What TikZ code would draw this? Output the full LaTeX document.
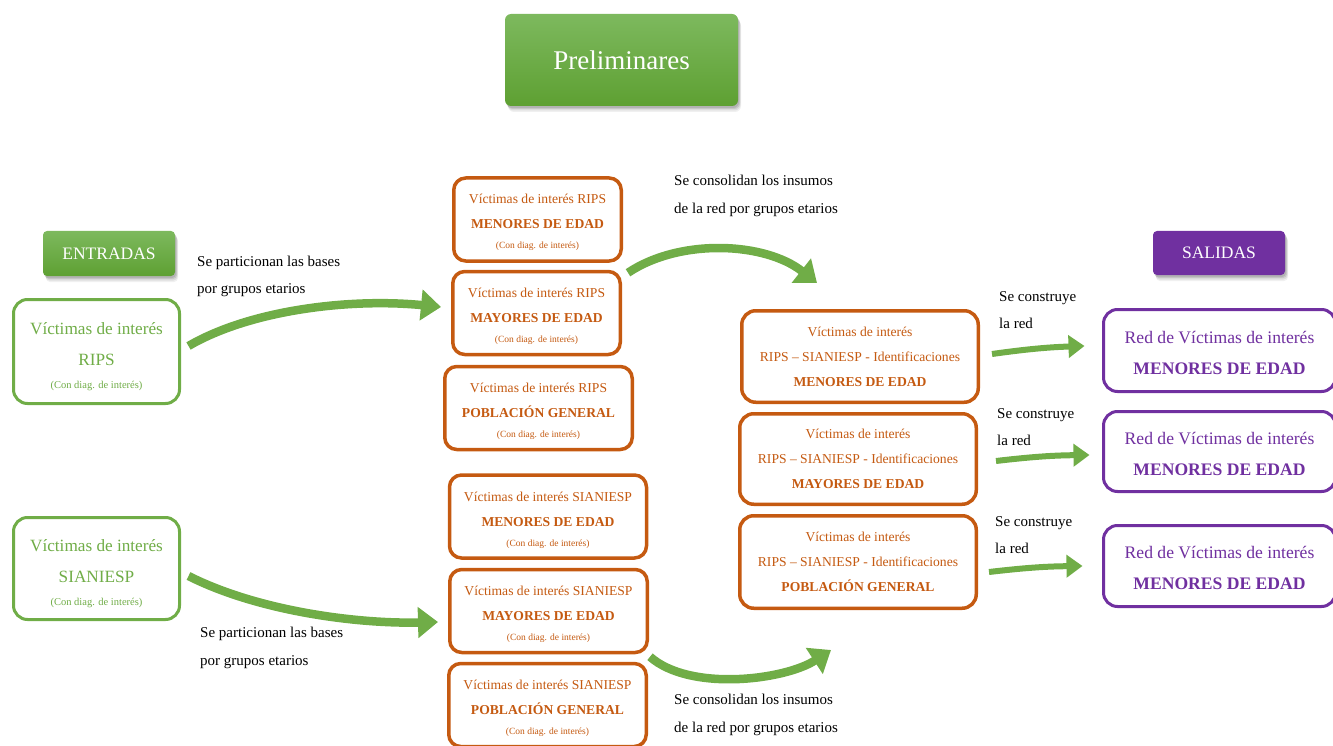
\documentclass[tikz,border=0pt]{standalone}
\usepackage{fontspec}
\setmainfont{Liberation Serif}
\usetikzlibrary{arrows.meta,calc,shadows}
\definecolor{grn}{HTML}{70AD47}
\definecolor{grnTop}{HTML}{7DB95E}
\definecolor{grnBot}{HTML}{5EA032}
\definecolor{org}{HTML}{C55A11}
\definecolor{prp}{HTML}{7030A0}

% invisible strut that sets the height of a first text line
\newcommand{\lift}[1]{\rule{0pt}{#1}}
\newcommand{\condiag}[1]{{\fontsize{#1}{12}\selectfont (Con diag. de interés)}}

\begin{document}
\begin{tikzpicture}[x=1pt,y=-1pt,
  every node/.style={align=center, inner sep=0pt},
  softshadow/.style={
    preaction={general shadow={shadow xshift=1pt, shadow yshift=-2pt, opacity=0.10, fill=black}},
    preaction={general shadow={shadow xshift=2pt, shadow yshift=-3pt, opacity=0.10, fill=black}},
    preaction={general shadow={shadow xshift=2.5pt, shadow yshift=-4.5pt, opacity=0.08, fill=black}},
    preaction={general shadow={shadow xshift=3pt, shadow yshift=-6pt, opacity=0.06, fill=black}}},
  titlebox/.style={softshadow, rounded corners=6pt, top color=grnTop, bottom color=grnBot, text=white},
  outbox/.style={softshadow, rounded corners=4pt, fill=prp, text=white},
  inbox/.style={draw=grn, line width=3pt, rounded corners=14pt, fill=white, text=grn,
    minimum width=166pt, font=\fontsize{17.2}{31}\selectfont},
  agebox/.style={draw=org, line width=3.5pt, rounded corners=12pt, fill=white, text=org,
    minimum height=83pt, font=\fontsize{13.6}{25}\selectfont},
  netbox/.style={draw=org, line width=3.5pt, rounded corners=14pt, fill=white, text=org,
    minimum width=236.5pt, font=\fontsize{13.6}{25}\selectfont},
  resbox/.style={draw=prp, line width=3pt, rounded corners=14pt, fill=white, text=prp,
    minimum width=232pt, font=\fontsize{17.6}{31}\selectfont},
  note/.style={align=left, anchor=west, text=black, font=\fontsize{15}{27.5}\selectfont},
  bigarrow/.style={draw=grn, line width=8.5pt, -{Triangle[length=20pt,width=30pt]}},
  smallarrow/.style={draw=grn, line width=6pt, -{Triangle[length=16pt,width=22pt]}},
]
\useasboundingbox (0,0) rectangle (1333,746);

% headers
\node[titlebox, minimum width=233pt, minimum height=92pt, font=\fontsize{27}{32}\selectfont]
  (prelim) at (621.5,60) {Preliminares};
\node[titlebox, rounded corners=4pt, minimum width=132pt, minimum height=45pt, font=\fontsize{17.5}{20}\selectfont]
  (entradas) at (109,253.5) {ENTRADAS};
\node[outbox, minimum width=132pt, minimum height=44pt, font=\fontsize{17.5}{20}\selectfont]
  (salidas) at (1219,253) {SALIDAS};

% input sources
\node[inbox, minimum height=104pt] (rips) at (96.5,351.5)
  {\lift{22pt}Víctimas de interés\\RIPS\\[-8pt]\condiag{10.5}};
\node[inbox, minimum height=102pt] (sian) at (96.5,568.5)
  {\lift{22pt}Víctimas de interés\\SIANIESP\\[-8pt]\condiag{10.5}};

% RIPS split by age group
\node[agebox, minimum width=167.5pt] (r1) at (537.5,219.5)
  {\lift{16pt}Víctimas de interés RIPS\\\textbf{MENORES DE EDAD}\\[-5pt]\condiag{9.5}};
\node[agebox, minimum width=167.5pt] (r2) at (536.5,313)
  {\lift{17pt}Víctimas de interés RIPS\\\textbf{MAYORES DE EDAD}\\[-5pt]\condiag{9.5}};
\node[agebox, minimum width=187.5pt] (r3) at (538.5,408)
  {\lift{16pt}Víctimas de interés RIPS\\\textbf{POBLACIÓN GENERAL}\\[-5pt]\condiag{9.5}};

% SIANIESP split by age group
\node[agebox, minimum width=197pt] (s1) at (548,516.5)
  {\lift{17pt}Víctimas de interés SIANIESP\\\textbf{MENORES DE EDAD}\\[-5pt]\condiag{9.5}};
\node[agebox, minimum width=197.5pt] (s2) at (548.5,611)
  {\lift{17pt}Víctimas de interés SIANIESP\\\textbf{MAYORES DE EDAD}\\[-5pt]\condiag{9.5}};
\node[agebox, minimum width=197.5pt] (s3) at (547.5,705)
  {\lift{16pt}Víctimas de interés SIANIESP\\\textbf{POBLACIÓN GENERAL}\\[-5pt]\condiag{9.5}};

% consolidated network inputs
\node[netbox, minimum height=91.5pt] (m1) at (860,356.5)
  {Víctimas de interés\\RIPS – SIANIESP - Identificaciones\\\textbf{MENORES DE EDAD}};
\node[netbox, minimum height=90.5pt] (m2) at (858,459)
  {Víctimas de interés\\RIPS – SIANIESP - Identificaciones\\\textbf{MAYORES DE EDAD}};
\node[netbox, minimum height=92.5pt] (m3) at (858,562)
  {Víctimas de interés\\RIPS – SIANIESP - Identificaciones\\\textbf{POBLACIÓN GENERAL}};

% outputs (running past the right margin)
\node[resbox, minimum height=82pt] (p1) at (1219.5,350.5)
  {\lift{16.5pt}Red de Víctimas de interés\\\textbf{MENORES DE EDAD}};
\node[resbox, minimum height=80pt] (p2) at (1219.5,451.5)
  {\lift{16.5pt}Red de Víctimas de interés\\\textbf{MENORES DE EDAD}};
\node[resbox, minimum height=81pt] (p3) at (1219.5,566)
  {\lift{16.5pt}Red de Víctimas de interés\\\textbf{MENORES DE EDAD}};

% step descriptions
\node[note] (n1) at (197,276.5) {Se particionan las bases\\por grupos etarios};
\node[note] (n2) at (200,648) {Se particionan las bases\\por grupos etarios};
\node[note] (n3) at (674,196) {Se consolidan los insumos\\de la red por grupos etarios};
\node[note] (n4) at (674,715) {Se consolidan los insumos\\de la red por grupos etarios};
\node[note] (n5) at (999,310) {Se construye\\la red};
\node[note] (n6) at (997,427) {Se construye\\la red};
\node[note] (n7) at (995,535) {Se construye\\la red};

% flow arrows
\draw[bigarrow] ($(rips.east)+(7.5,-5.5)$) .. controls (250,310) and (350,298) .. ($(r2.west)+(-10,-6)$);
\draw[bigarrow] ($(sian.east)+(7.5,7.5)$) .. controls (260,612) and (360,624) .. ($(s2.west)+(-10,11)$);
\draw[bigarrow] ($(r1.south east)+(5,10)$) .. controls (680,238) and (765,242) .. ($(m1.north)+(-43,-26)$);
\draw[bigarrow] ($(s3.north east)+(2,-5)$) .. controls (690,692) and (785,680) .. ($(m3.south)+(-27,40)$);
\draw[smallarrow] ($(m1.east)+(12,-2.5)$) to[bend left=3] ($(p1.west)+(-17.5,-4.5)$);
\draw[smallarrow] ($(m2.east)+(18,2)$) to[bend left=3] ($(p2.west)+(-12.5,3.5)$);
\draw[smallarrow] ($(m3.east)+(11,10)$) to[bend left=3] ($(p3.west)+(-19.5,0)$);
\end{tikzpicture}
\end{document}
